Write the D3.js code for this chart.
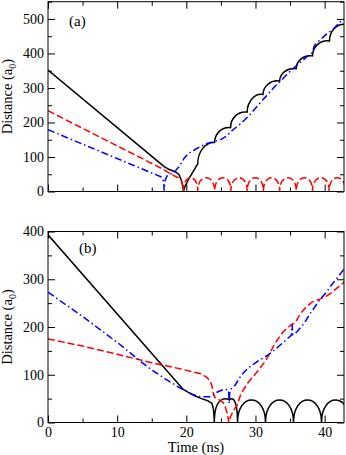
<!DOCTYPE html>
<html>
<head>
<meta charset="utf-8">
<script src="https://cdn.jsdelivr.net/npm/d3@7"></script>
<style>
  body { margin: 0; background: #fff; }
  svg text { font-family: "Liberation Serif", "DejaVu Serif", serif; }
</style>
</head>
<body>
<script>
// Axis ticks
const timeMax = 42.8
const xMajor = [0, 10, 20, 30, 40]
const xMinor = [5, 15, 25, 35]
const yMajorA = [0, 100, 200, 300, 400, 500]
const yMinorA = [50, 150, 250, 350, 450, 550]
const yMajorB = [0, 100, 200, 300, 400]
const yMinorB = [50, 150, 250, 350]

// Panel (a) — black solid (line, then rising humps between cusps)
const blackA = [[0, 352], [16.8, 72], [17.3, 66], [18.0, 60], [18.6, 55], [19.0, 47], [19.3, 32],
  [19.5, 14], [19.6, 2], [19.9, 18], [20.4, 38], [21.0, 58], [21.65, 80]]
const blackACuspT = [21.65, 24.1, 26.4, 28.8, 31.1, 33.5, 35.9, 38.25, 40.7, 43.1]
const blackACuspV = [80, 142, 185, 230, 281, 320, 356, 393, 436, 484]
const blackAOver = [2, 3, 4, 4, 4, 3, 4, 4, 4]

// Panel (a) — red dashed (line, then semi-arcs between cusps)
const redA = [[0, 234], [16.8, 63], [17.8, 50], [18.6, 42], [19.1, 38], [19.4, 25], [19.6, 2]]
const redACuspT = [19.6, 21.65, 24.1, 26.45, 28.8, 31.15, 33.5, 35.9, 38.25, 40.65, 43.0, 45.4]
const redACuspV = [2, 2, 2, 2, 2, 2, 2, 2, 2, 2, 2, 2]
const redAPeak = [40, 40, 40, 40, 40, 40, 40, 40, 40, 40, 40]

// Panel (a) — blue dash-dot
const blueA = [[0, 179], [16.4, 42], [16.7, 30], [16.8, 4], [16.9, 30], [17.2, 45], [18.25, 56],
  [19.0, 73], [19.7, 97], [20.3, 110], [21.2, 121], [22.2, 132], [23.1, 140], [24.1, 145],
  [25.0, 151], [25.8, 160], [26.75, 179], [27.96, 198], [29.4, 227], [30.4, 251], [32.8, 304],
  [35.2, 352], [37.7, 395], [38.2, 402], [38.5, 422], [39.1, 435], [40.1, 453], [41.2, 470],
  [42.5, 496], [43.1, 503]]

// Panel (b) — black solid
const blackB = [[0, 393], [19.5, 70], [20.3, 63], [21.2, 56], [22.2, 50], [23.2, 45], [23.7, 40],
  [23.9, 30], [24.0, 15], [24.05, 0]]
const blackBCuspT = [24.05, 26.25, 27.4, 31.45, 35.5, 39.55, 43.6]
const blackBCuspV = [0, 47, 0, 0, 0, 0, 0]
const blackBPeak = [48, 48, 47, 47, 47, 47]
const blackBSpike = [[26.25, 46], [26.25, 53]]

// Panel (b) — red dashed
const redB = [[0, 175], [5, 160], [10, 143], [15, 125], [18, 116], [20.7, 107], [22.1, 102],
  [22.9, 95], [23.4, 88], [23.7, 77], [23.9, 62], [24.1, 53], [24.7, 48], [25.3, 42], [25.7, 30],
  [26.0, 14], [26.15, 0], [26.4, 12], [26.8, 25], [27.3, 35], [27.95, 62], [29, 85], [30.4, 109],
  [31.5, 130], [32.8, 165], [34, 190], [35.2, 205], [35.8, 210], [36.45, 227], [37.2, 240],
  [38.15, 252], [39.4, 259], [40.2, 264], [41.1, 273], [42, 284], [43, 296]]

// Panel (b) — blue dash-dot
const blueB = [[0, 273], [5, 222], [10, 168], [13.4, 128], [15, 110], [17, 91], [19, 73],
  [20.7, 60], [22, 54], [23.6, 54], [24.5, 64], [25.5, 70], [26.1, 68], [26.2, 42], [26.3, 68],
  [27, 77], [28, 100], [29, 115], [30.5, 130], [32, 143], [33, 155], [34.2, 170], [35.2, 183],
  [35.3, 205], [35.4, 184], [36, 190], [37, 207], [38, 230], [39.4, 259], [40.2, 272],
  [41.1, 290], [42, 306], [43, 325]]

const font = '"Liberation Serif", "DejaVu Serif", serif'
const styles = {
  black: { stroke: '#000', dash: null },
  red: { stroke: '#ff0000', dash: '7,3' },
  blue: { stroke: '#0000ff', dash: '7,3,1.5,3' },
}

const svg = d3.select('body').append('svg')
  .attr('width', 346)
  .attr('height', 455)
  .style('display', 'block')

svg.append('rect').attr('width', 346).attr('height', 455).attr('fill', '#fff')

// semi-arcs: cusp to cusp with a given mid height (vertical tangents at both ends)
function semiArcs(x, y, cuspT, cuspV, peaks) {
  let d = ''
  for (let i = 0; i < peaks.length; i++) {
    const t0 = cuspT[i], t1 = cuspT[i + 1], v0 = cuspV[i], v1 = cuspV[i + 1], p = peaks[i]
    d += `C${x(t0)},${y(v0 + (p - v0) * 4 / 3)} ${x(t1)},${y(v1 + (p - v1) * 4 / 3)} ${x(t1)},${y(v1)}`
  }
  return d
}

// rising humps: steep start, flat top, small drop into the next cusp
function humps(x, y, cuspT, cuspV, over) {
  let d = ''
  for (let i = 0; i < over.length; i++) {
    const t0 = cuspT[i], t1 = cuspT[i + 1], v0 = cuspV[i], v1 = cuspV[i + 1], o = over[i]
    d += `C${x(t0)},${y(v0 + 0.55 * (v1 + o - v0))} ${x(t1 - 0.55 * (t1 - t0))},${y(v1 + o)} ${x(t1)},${y(v1)}`
  }
  return d
}

function seriesPath(x, y, s) {
  let d = d3.line().x(p => x(p[0])).y(p => y(p[1]))(s.pts)
  if (s.peaks) d += semiArcs(x, y, s.cuspT, s.cuspV, s.peaks)
  if (s.over) d += humps(x, y, s.cuspT, s.cuspV, s.over)
  return d
}

function drawPanel(cfg) {
  const x = d3.scaleLinear().domain([0, timeMax]).range([48, 344])
  const y = d3.scaleLinear().domain([0, cfg.yMax]).range([cfg.bottom, cfg.top])
  const g = svg.append('g')

  const clipId = 'clip-' + cfg.name
  svg.append('clipPath').attr('id', clipId)
    .append('rect')
    .attr('x', 48).attr('y', cfg.top)
    .attr('width', 296).attr('height', cfg.bottom - cfg.top)

  const plot = g.append('g').attr('clip-path', `url(#${clipId})`)
  cfg.series.forEach(s => {
    const st = styles[s.color]
    plot.append('path')
      .attr('d', seriesPath(x, y, s))
      .attr('fill', 'none')
      .attr('stroke', st.stroke)
      .attr('stroke-width', 1.5)
      .attr('stroke-dasharray', st.dash)
      .attr('stroke-linejoin', 'round')
  })

  // Ticks on all four sides, pointing in
  const axes = [
    { make: () => d3.axisBottom(x), t: `translate(0,${cfg.bottom})`, major: xMajor, minor: xMinor, labels: cfg.xLabels, pad: 5 },
    { make: () => d3.axisTop(x), t: `translate(0,${cfg.top})`, major: xMajor, minor: xMinor, labels: false, pad: 4 },
    { make: () => d3.axisLeft(y), t: 'translate(48,0)', major: cfg.yMajor, minor: cfg.yMinor, labels: true, pad: 4 },
    { make: () => d3.axisRight(y), t: 'translate(344,0)', major: cfg.yMajor, minor: cfg.yMinor, labels: false, pad: 4 },
  ]
  axes.forEach(a => {
    const major = g.append('g').attr('transform', a.t)
      .call(a.make().tickValues(a.major).tickSize(-7).tickPadding(a.pad)
        .tickFormat(a.labels ? d3.format('d') : ''))
    const minor = g.append('g').attr('transform', a.t)
      .call(a.make().tickValues(a.minor).tickSize(-4).tickFormat(''))
    ;[major, minor].forEach(sel => {
      sel.attr('font-family', font).attr('font-size', 14)
      sel.select('.domain').remove()
      sel.selectAll('line').attr('stroke', '#000').attr('stroke-width', 1)
      sel.selectAll('text').attr('fill', '#000')
    })
  })

  g.append('rect')
    .attr('x', 48).attr('y', cfg.top)
    .attr('width', 296).attr('height', cfg.bottom - cfg.top)
    .attr('fill', 'none').attr('stroke', '#000').attr('stroke-width', 1)

  // Panel tag
  g.append('text')
    .attr('x', cfg.tagX).attr('y', cfg.tagY)
    .attr('font-family', font).attr('font-size', 15)
    .text(cfg.tag)

  // Y label
  const yl = g.append('text')
    .attr('transform', `translate(12,${(cfg.top + cfg.bottom) / 2}) rotate(-90)`)
    .attr('text-anchor', 'middle')
    .attr('font-family', font).attr('font-size', 14.5)
  yl.append('tspan').text('Distance (a')
  yl.append('tspan').attr('dy', 4).attr('font-size', 10).text('0')
  yl.append('tspan').attr('dy', -4).text(')')

  if (cfg.xLabels) {
    g.append('text')
      .attr('x', 196).attr('y', 452)
      .attr('text-anchor', 'middle')
      .attr('font-family', font).attr('font-size', 14.5)
      .text('Time (ns)')
  }
}

drawPanel({
  name: 'a', top: 1.7, bottom: 191.5, yMax: 550, yMajor: yMajorA, yMinor: yMinorA,
  xLabels: false, tag: '(a)', tagX: 69, tagY: 26,
  series: [
    { color: 'black', pts: blackA, cuspT: blackACuspT, cuspV: blackACuspV, over: blackAOver },
    { color: 'red', pts: redA, cuspT: redACuspT, cuspV: redACuspV, peaks: redAPeak },
    { color: 'blue', pts: blueA },
  ],
})

drawPanel({
  name: 'b', top: 231.5, bottom: 422.5, yMax: 400, yMajor: yMajorB, yMinor: yMinorB,
  xLabels: true, tag: '(b)', tagX: 79, tagY: 253,
  series: [
    { color: 'black', pts: blackB, cuspT: blackBCuspT, cuspV: blackBCuspV, peaks: blackBPeak },
    { color: 'black', pts: blackBSpike },
    { color: 'red', pts: redB },
    { color: 'blue', pts: blueB },
  ],
})
</script>
</body>
</html>
